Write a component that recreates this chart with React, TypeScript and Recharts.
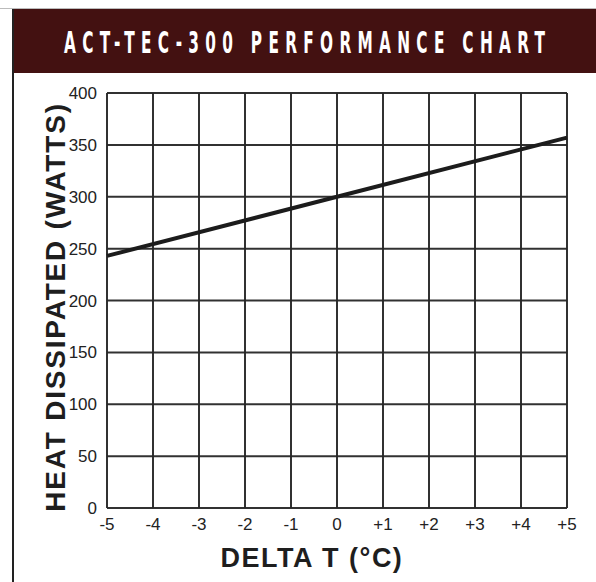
import React from 'react';
import { LineChart, Line, XAxis, YAxis, CartesianGrid } from 'recharts';

const TITLE = 'ACT-TEC-300 PERFORMANCE CHART';
const Y_LABEL = 'HEAT DISSIPATED (WATTS)';
const X_LABEL = 'DELTA T (°C)';

const deltaT = [-5, 0, 5];
const heatWatts = [243, 300, 357];

const xTicks = [-5, -4, -3, -2, -1, 0, 1, 2, 3, 4, 5];
const xTickLabels = ['-5', '-4', '-3', '-2', '-1', '0', '+1', '+2', '+3', '+4', '+5'];
const yTicks = [0, 50, 100, 150, 200, 250, 300, 350, 400];

const data = deltaT.map((d, i) => ({ d, w: heatWatts[i] }));

const tickStyle = { fontFamily: 'Liberation Sans, Arial, sans-serif', fontSize: 17, fill: '#222' };

export default function App() {
  return (
    <div style={{ position: 'absolute', left: 0, top: 0, width: 596, height: 582, background: '#fff', overflow: 'hidden' }}>
      <LineChart
        width={596}
        height={582}
        data={data}
        margin={{ top: 93, right: 29, bottom: 44, left: 47 }}
        style={{ position: 'absolute', left: 0, top: 0 }}
      >
        <CartesianGrid stroke="#262626" strokeWidth={2} strokeOpacity={0.95} />
        <XAxis
          dataKey="d"
          type="number"
          domain={[-5, 5]}
          ticks={xTicks}
          tickFormatter={(v: number) => xTickLabels[xTicks.indexOf(v)]}
          axisLine={false}
          tickLine={false}
          height={30}
          tick={tickStyle}
          tickMargin={4}
          interval={0}
          label={{
            content: () => (
              <text
                x={312}
                y={567}
                textAnchor="middle"
                style={{ fontFamily: 'Liberation Sans, Arial, sans-serif', fontWeight: 'bold', fontSize: 27, fill: '#1e1e1e', letterSpacing: 1.5 }}
              >
                {X_LABEL}
              </text>
            ),
          }}
        />
        <YAxis
          type="number"
          domain={[0, 400]}
          ticks={yTicks}
          axisLine={false}
          tickLine={false}
          width={60}
          tick={tickStyle}
          tickMargin={4}
          interval={0}
          label={{
            content: () => (
              <text
                x={65}
                y={307}
                transform="rotate(-90, 65, 307)"
                textAnchor="middle"
                style={{ fontFamily: 'Liberation Sans, Arial, sans-serif', fontWeight: 'bold', fontSize: 28, fill: '#1e1e1e', letterSpacing: 1.8 }}
              >
                {Y_LABEL}
              </text>
            ),
          }}
        />
        <Line
          type="linear"
          dataKey="w"
          stroke="#1c1c1c"
          strokeWidth={4}
          dot={false}
          activeDot={false}
          isAnimationActive={false}
        />
      </LineChart>
      <div style={{ position: 'absolute', left: 0, top: 8, width: 596, height: 1, background: '#bbb' }} />
      <div style={{ position: 'absolute', left: 12, top: 9, width: 584, height: 64, background: '#431111' }} />
      <div style={{ position: 'absolute', left: 12, top: 9, width: 2, height: 573, background: '#222' }} />
      <svg width={596} height={80} style={{ position: 'absolute', left: 0, top: 0 }}>
        <g transform="scale(0.55,1)">
          <text
            x={304.5 / 0.55}
            y={53}
            textAnchor="middle"
            textLength={481 / 0.55}
            lengthAdjust="spacing"
            style={{ fontFamily: 'DejaVu Sans Condensed, DejaVu Sans, sans-serif', fontWeight: 'bold', fontSize: 31, fill: '#fff' }}
          >
            {TITLE}
          </text>
        </g>
      </svg>
    </div>
  );
}
